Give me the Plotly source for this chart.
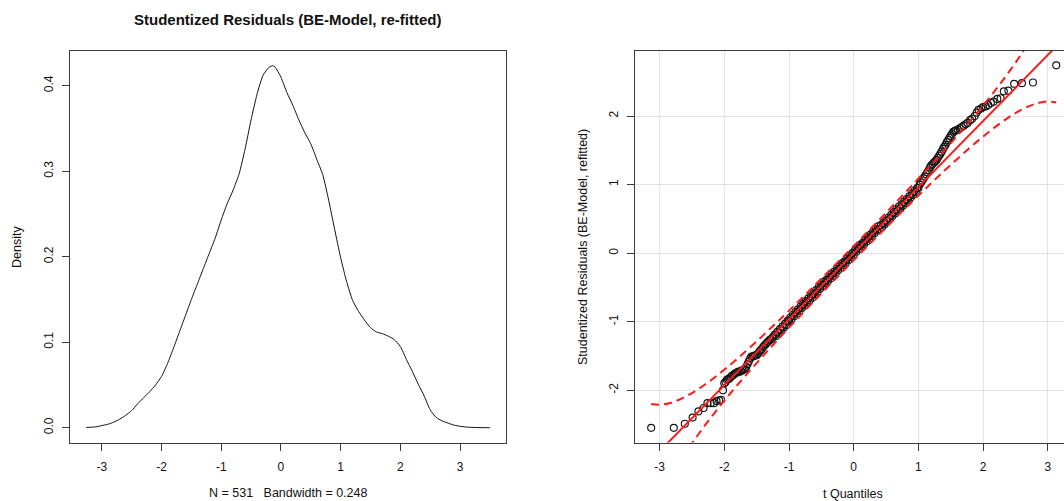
import plotly.graph_objects as go

# ---------------- data: left panel (kernel density) ----------------
dens_x = [-3.26, -3.1, -3.0, -2.9, -2.8, -2.7, -2.6, -2.5, -2.4, -2.3, -2.2, -2.1, -2.0,
          -1.9, -1.8, -1.7, -1.6, -1.5, -1.4, -1.3, -1.2, -1.1, -1.0, -0.9, -0.8, -0.7,
          -0.6, -0.5, -0.4, -0.3, -0.2, -0.14, -0.1, 0.0, 0.1, 0.2, 0.3, 0.4, 0.5, 0.6,
          0.7, 0.8, 0.9, 1.0, 1.1, 1.2, 1.3, 1.4, 1.5, 1.6, 1.7, 1.8, 1.9, 2.0, 2.1,
          2.2, 2.3, 2.4, 2.5, 2.6, 2.7, 2.8, 2.9, 3.0, 3.1, 3.2, 3.35, 3.5]
dens_y = [0.0003, 0.001, 0.0025, 0.004, 0.0065, 0.010, 0.0145, 0.020, 0.028, 0.035, 0.042,
          0.050, 0.060, 0.075, 0.093, 0.112, 0.131, 0.150, 0.168, 0.186, 0.204, 0.222,
          0.243, 0.262, 0.278, 0.297, 0.326, 0.360, 0.390, 0.412, 0.4215, 0.4234, 0.422,
          0.410, 0.392, 0.377, 0.360, 0.345, 0.332, 0.314, 0.296, 0.266, 0.232, 0.199,
          0.171, 0.149, 0.136, 0.126, 0.117, 0.112, 0.110, 0.107, 0.103, 0.095, 0.080,
          0.066, 0.051, 0.037, 0.021, 0.012, 0.008, 0.0054, 0.003, 0.0017, 0.0008,
          0.0004, 0.0001, 0.0]
dens_xticks = [-3, -2, -1, 0, 1, 2, 3]
dens_yticks = [0.0, 0.1, 0.2, 0.3, 0.4]
dens_ytext = ["0.0", "0.1", "0.2", "0.3", "0.4"]

# ---------------- data: right panel (QQ plot) ----------------
qq_x = [-3.13, -2.78, -2.61, -2.49, -2.40, -2.32, -2.26, -2.21, -2.16, -2.12, -2.08, -2.05,
        -2.02, -2.00, -1.98, -1.96, -1.94, -1.92, -1.90, -1.88, -1.86, -1.84, -1.82, -1.80,
        -1.78, -1.76, -1.74, -1.72, -1.70, -1.68, -1.66, -1.64, -1.62, -1.60, -1.58, -1.56,
        -1.54, -1.52, -1.50, -1.48, -1.46, -1.44, -1.42, -1.40, -1.38, -1.36, -1.34, -1.32,
        -1.30, -1.28, -1.26, -1.24,
        -1.22, -1.20, -1.18, -1.16, -1.14, -1.12, -1.10, -1.08, -1.06, -1.04, -1.02, -1.00,
        -0.98, -0.96, -0.94, -0.92, -0.90, -0.88, -0.86, -0.84, -0.82, -0.80, -0.78, -0.76,
        -0.74, -0.72, -0.70, -0.68, -0.66, -0.64, -0.62, -0.60, -0.58, -0.56, -0.54, -0.52,
        -0.50, -0.48, -0.46, -0.44, -0.42, -0.40, -0.38, -0.36, -0.34, -0.32, -0.30, -0.28,
        -0.26, -0.24, -0.22, -0.20, -0.18, -0.16, -0.14, -0.12, -0.10, -0.08, -0.06, -0.04,
        -0.02, 0.00, 0.02, 0.04, 0.06, 0.08, 0.10, 0.12, 0.14, 0.16, 0.18, 0.20, 0.22, 0.24,
        0.26, 0.28, 0.30, 0.32, 0.34, 0.36, 0.38, 0.40, 0.42, 0.44, 0.46, 0.48, 0.50, 0.52,
        0.54, 0.56, 0.58, 0.60, 0.62, 0.64, 0.66, 0.68, 0.70, 0.72, 0.74, 0.76, 0.78, 0.80,
        0.82, 0.84, 0.86, 0.88, 0.90, 0.92, 0.94, 0.96, 0.98, 1.00,
        1.02, 1.04, 1.06, 1.08, 1.10, 1.12, 1.14, 1.16, 1.18, 1.20, 1.22, 1.24, 1.26, 1.28,
        1.30, 1.32, 1.34, 1.36, 1.38, 1.40, 1.42, 1.44, 1.46, 1.48, 1.50, 1.52, 1.54, 1.56,
        1.58, 1.61, 1.64, 1.67, 1.70, 1.73, 1.76, 1.80, 1.83, 1.87, 1.90, 1.93, 1.97, 2.00,
        2.04, 2.08, 2.12, 2.16, 2.22, 2.27, 2.32, 2.39, 2.48, 2.60, 2.77, 3.13]
qq_y = [-2.55, -2.55, -2.49, -2.40, -2.31, -2.26, -2.19, -2.19, -2.19, -2.16, -2.15, -2.14,
        -2.00, -1.90, -1.88, -1.85, -1.84, -1.83, -1.81, -1.79, -1.78, -1.76, -1.75, -1.74,
        -1.73, -1.73, -1.72, -1.71, -1.70, -1.69, -1.66, -1.62, -1.58, -1.54, -1.51, -1.51,
        -1.50, -1.49, -1.49, -1.47, -1.44, -1.42, -1.40, -1.37, -1.35, -1.33, -1.31, -1.29,
        -1.27, -1.26, -1.24, -1.22,
        -1.19, -1.21, -1.15, -1.17, -1.11, -1.13, -1.07, -1.09, -1.03, -1.05, -0.99, -0.99,
        -0.94, -0.96, -0.90, -0.92, -0.86, -0.88, -0.82, -0.84, -0.78, -0.80, -0.74, -0.76,
        -0.70, -0.72, -0.66, -0.69, -0.63, -0.65, -0.59, -0.60, -0.54, -0.56, -0.50, -0.52,
        -0.46, -0.48, -0.42, -0.44, -0.39, -0.41, -0.35, -0.37, -0.31, -0.33, -0.27, -0.29,
        -0.23, -0.25, -0.19, -0.21, -0.15, -0.17, -0.12, -0.14, -0.08, -0.10, -0.04, -0.06,
        0.00, -0.02, 0.04, 0.02, 0.08, 0.06, 0.12, 0.10, 0.15, 0.13, 0.19, 0.17, 0.23, 0.21,
        0.27, 0.25, 0.31, 0.29, 0.35, 0.33, 0.39, 0.35, 0.41, 0.38, 0.44, 0.42, 0.48, 0.46,
        0.52, 0.50, 0.56, 0.54, 0.60, 0.58, 0.64, 0.62, 0.68, 0.65, 0.71, 0.69, 0.75, 0.73,
        0.79, 0.77, 0.83, 0.81, 0.87, 0.85, 0.91, 0.89, 0.95, 0.95,
        1.00, 1.03, 1.06, 1.09, 1.12, 1.15, 1.18, 1.21, 1.25, 1.28, 1.30, 1.32, 1.34, 1.36,
        1.39, 1.42, 1.45, 1.48, 1.52, 1.55, 1.58, 1.62, 1.65, 1.68, 1.71, 1.74, 1.77, 1.78,
        1.79, 1.80, 1.82, 1.84, 1.86, 1.88, 1.90, 1.94, 1.96, 2.00, 2.05, 2.09, 2.11, 2.13,
        2.14, 2.16, 2.19, 2.21, 2.25, 2.26, 2.36, 2.37, 2.47, 2.48, 2.49, 2.74]

ref_intercept = 0.0
ref_slope = 0.964
ref_x = [-3.6, 3.6]

env_x = [-3.13, -3.0, -2.85, -2.7, -2.55, -2.4, -2.25, -2.1, -1.95, -1.8, -1.6, -1.4, -1.2,
         -1.0, -0.75, -0.5, -0.25, 0.0, 0.25, 0.5, 0.75, 1.0, 1.2, 1.4, 1.6, 1.8, 1.95, 2.1,
         2.25, 2.4, 2.55, 2.7, 2.85, 3.0, 3.13]
env_upper = [-2.201, -2.212, -2.190, -2.140, -2.070, -1.984, -1.885, -1.777, -1.663, -1.542,
             -1.374, -1.201, -1.022, -0.840, -0.609, -0.374, -0.137, 0.103, 0.345, 0.590,
             0.837, 1.088, 1.292, 1.499, 1.710, 1.928, 2.097, 2.271, 2.453, 2.644, 2.846,
             3.066, 3.304, 3.572, 3.833]
env_lower = [-3.833, -3.572, -3.304, -3.066, -2.846, -2.644, -2.453, -2.271, -2.097, -1.928,
             -1.710, -1.499, -1.292, -1.088, -0.837, -0.590, -0.345, -0.103, 0.137, 0.374,
             0.609, 0.840, 1.022, 1.201, 1.374, 1.542, 1.663, 1.777, 1.885, 1.984, 2.070,
             2.140, 2.190, 2.212, 2.201]
qq_xticks = [-3, -2, -1, 0, 1, 2, 3]
qq_yticks = [-2, -1, 0, 1, 2]

# ---------------- figure ----------------
W, H = 1064, 501
FONT = "Liberation Sans, Arial, Helvetica, sans-serif"
LINE = "#3a3a3a"
RED = "#ff1a1a"


def px_x(p):
    return p / W


def px_y(p):
    return (H - p) / H


fig = go.Figure()

fig.add_trace(go.Scatter(x=dens_x, y=dens_y, mode="lines", xaxis="x", yaxis="y",
                         line=dict(color="#111", width=1, shape="spline", smoothing=0.6),
                         showlegend=False, hoverinfo="skip"))

fig.add_trace(go.Scatter(x=qq_x, y=qq_y, mode="markers", xaxis="x2", yaxis="y2",
                         marker=dict(symbol="circle-open", size=7, color="#151515",
                                     line=dict(width=1.15)),
                         showlegend=False, hoverinfo="skip"))
fig.add_trace(go.Scatter(x=env_x, y=env_upper, mode="lines", xaxis="x2", yaxis="y2",
                         line=dict(color=RED, width=2, dash="8px,5px", shape="spline"),
                         showlegend=False, hoverinfo="skip"))
fig.add_trace(go.Scatter(x=env_x, y=env_lower, mode="lines", xaxis="x2", yaxis="y2",
                         line=dict(color=RED, width=2, dash="8px,5px", shape="spline"),
                         showlegend=False, hoverinfo="skip"))
fig.add_trace(go.Scatter(x=ref_x, y=[ref_intercept + ref_slope * v for v in ref_x],
                         mode="lines", xaxis="x2", yaxis="y2",
                         line=dict(color=RED, width=2),
                         showlegend=False, hoverinfo="skip"))

axis_common = dict(showline=True, linecolor=LINE, linewidth=1, ticks="outside", ticklen=7,
                   tickwidth=1, tickcolor=LINE, zeroline=False,
                   tickfont=dict(family=FONT, size=12, color="#111"))

fig.update_layout(
    width=W, height=H,
    margin=dict(l=0, r=0, t=0, b=0),
    paper_bgcolor="white", plot_bgcolor="white",
    xaxis=dict(domain=[px_x(70), px_x(506)], range=[-3.533, 3.770], anchor="y",
               tickvals=dens_xticks, ticktext=[str(v) for v in dens_xticks],
               mirror=True, showgrid=False, ticklabelstandoff=6, **axis_common),
    yaxis=dict(domain=[px_y(442.5), px_y(51)], range=[-0.0173, 0.4406], anchor="x",
               tickvals=dens_yticks, ticktext=dens_ytext, tickangle=-90,
               mirror=True, showgrid=False, ticklabelstandoff=4, **axis_common),
    xaxis2=dict(domain=[px_x(635), 1.0], range=[-3.380, 3.250], anchor="y2",
                tickvals=qq_xticks, ticktext=[str(v) for v in qq_xticks],
                mirror=True, showgrid=True, gridcolor="#e3e3e3", gridwidth=1,
                ticklabelstandoff=6, **axis_common),
    yaxis2=dict(domain=[px_y(442.5), px_y(51)], range=[-2.764, 2.949], anchor="x2",
                tickvals=qq_yticks, ticktext=[str(v) for v in qq_yticks], tickangle=-90,
                mirror=False, showgrid=True, gridcolor="#e3e3e3", gridwidth=1,
                ticklabelstandoff=4, **axis_common),
)

ann_font = dict(family=FONT, size=12.5, color="#111")
NB = "\u00a0"
fig.add_annotation(text="<b>Studentized Residuals (BE-Model, re-fitted)</b>",
                   x=px_x(288), y=px_y(20), xref="paper", yref="paper", showarrow=False,
                   xanchor="center", yanchor="middle",
                   font=dict(family=FONT, size=15, color="#111"))
fig.add_annotation(text="Density", x=px_x(17), y=px_y(247), xref="paper", yref="paper",
                   showarrow=False, textangle=-90, xanchor="center", yanchor="middle",
                   font=ann_font)
fig.add_annotation(text=f"N = 531{NB}{NB}{NB}Bandwidth = 0.248", x=px_x(288), y=px_y(493),
                   xref="paper", yref="paper", showarrow=False, xanchor="center",
                   yanchor="middle", font=ann_font)
fig.add_annotation(text="t Quantiles", x=px_x(853), y=px_y(494), xref="paper", yref="paper",
                   showarrow=False, xanchor="center", yanchor="middle", font=ann_font)
fig.add_annotation(text="Studentized Residuals (BE-Model, refitted)", x=px_x(583),
                   y=px_y(247), xref="paper", yref="paper", showarrow=False, textangle=-90,
                   xanchor="center", yanchor="middle", font=ann_font)

fig.write_html("out.html",
               config={"displayModeBar": False},
               post_script="document.body.style.margin='0';"
                           "document.body.style.overflow='hidden';")
